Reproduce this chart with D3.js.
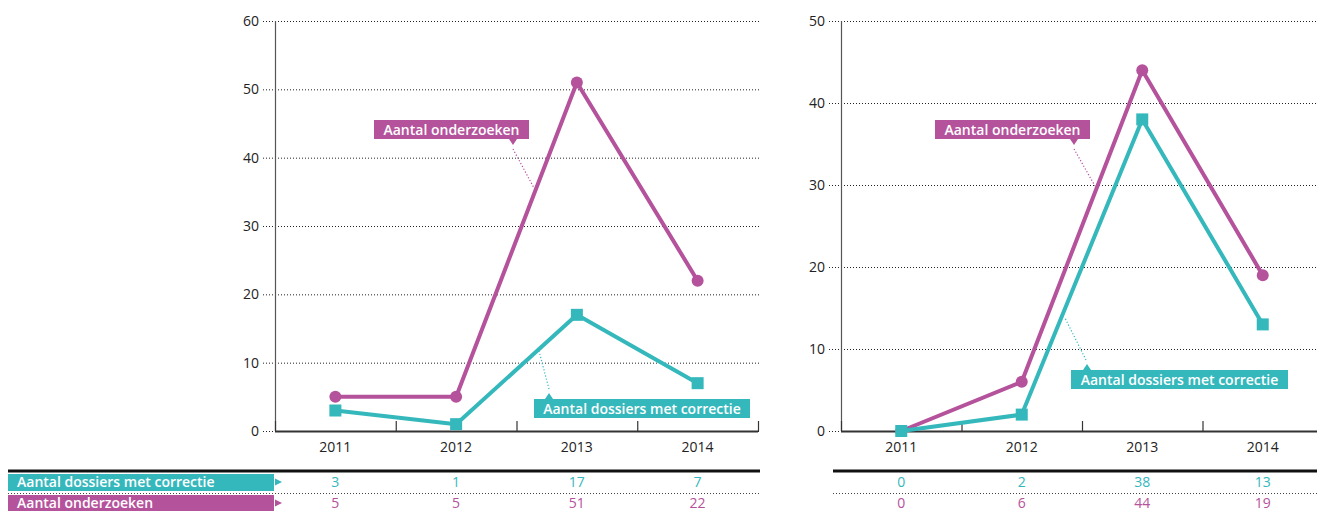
<!DOCTYPE html>
<html>
<head>
<meta charset="utf-8">
<script src="https://cdn.jsdelivr.net/npm/d3@7"></script>
<style>
  html, body { margin: 0; padding: 0; background: #fff; }
  svg { display: block; font-family: "Open Sans", "Noto Sans", sans-serif; }
</style>
</head>
<body>
<svg id="chart" width="1317" height="511"></svg>
<script>
// Years and yearly counts per panel
const years = ["2011", "2012", "2013", "2014"];
const leftCorrecties = [3, 1, 17, 7];
const leftOnderzoeken = [5, 5, 51, 22];
const rightCorrecties = [0, 2, 38, 13];
const rightOnderzoeken = [0, 6, 44, 19];
const leftTicks = [0, 10, 20, 30, 40, 50, 60];
const rightTicks = [0, 10, 20, 30, 40, 50];
const labelCorrecties = "Aantal dossiers met correctie";
const labelOnderzoeken = "Aantal onderzoeken";

const TEAL = "#35b8bc";
const PURPLE = "#b5529c";
const FS = 14;

const svg = d3.select("#chart");

// Row labels of the value table on the far left
function rowLabel(y, text, color) {
  svg.append("rect").attr("x", 8).attr("y", y - 8).attr("width", 266).attr("height", 17).attr("fill", color);
  svg.append("path")
    .attr("d", `M275,${y - 3.5} L282,${y} L275,${y + 3.5} Z`)
    .attr("fill", color);
  svg.append("text").attr("x", 17).attr("y", y).attr("dy", "0.36em")
    .attr("fill", "#fff").attr("font-size", FS).attr("font-weight", 600)
    .text(text);
}

// Callout box with a small pointer and dotted leader to the line
function callout(g, box, pointer, leader, text, color, pointerUp) {
  g.append("rect").attr("x", box[0]).attr("y", box[1]).attr("width", box[2]).attr("height", box[3]).attr("fill", color);
  const px = pointer[0], py = pointer[1];
  const tip = pointerUp ? py - 6 : py + 6;
  g.append("path").attr("d", `M${px - 4},${py} L${px},${tip} L${px + 4},${py} Z`).attr("fill", color);
  g.append("line")
    .attr("x1", leader[0]).attr("y1", leader[1]).attr("x2", leader[2]).attr("y2", leader[3])
    .attr("stroke", color).attr("stroke-width", 1.2).attr("stroke-dasharray", "1.2,2");
  g.append("text").attr("x", box[0] + box[2] / 2).attr("y", box[1] + box[3] / 2).attr("dy", "0.36em")
    .attr("text-anchor", "middle").attr("fill", "#fff")
    .attr("font-size", FS).attr("font-weight", 600).text(text);
}

function panel(o) {
  const g = svg.append("g");
  const x = d3.scaleBand().domain(years).range([o.x0, o.x1]);
  const y = d3.scaleLinear().domain([0, o.max]).range([431, 21]);
  const cx = d => x(d) + x.bandwidth() / 2;

  // dotted gridlines and y tick labels
  g.selectAll(".grid").data(o.ticks).join("line")
    .attr("x1", o.x0 - 12).attr("x2", o.gridEnd)
    .attr("y1", d => y(d) + 0.5).attr("y2", d => y(d) + 0.5)
    .attr("stroke", "#222").attr("stroke-width", 1).attr("stroke-dasharray", "1,2");
  g.selectAll(".ylab").data(o.ticks).join("text")
    .attr("x", o.x0 - 16).attr("y", d => y(d)).attr("dy", "0.36em")
    .attr("text-anchor", "end").attr("font-size", FS).attr("fill", "#222")
    .text(d => d);

  // y axis line
  g.append("line").attr("x1", o.x0 + 0.5).attr("x2", o.x0 + 0.5).attr("y1", y(o.max)).attr("y2", y(0))
    .attr("stroke", "#555").attr("stroke-width", 1.2);

  // x axis with upward ticks at the category boundaries
  const xAxis = d3.axisBottom(x).tickSize(0).tickPadding(11);
  const ax = g.append("g").attr("transform", `translate(0,${y(0)})`).call(xAxis);
  ax.select(".domain").remove();
  ax.selectAll("text").attr("font-size", FS).attr("fill", "#222")
    .attr("font-family", "\"Open Sans\", \"Noto Sans\", sans-serif");
  g.append("line").attr("x1", o.x0).attr("x2", o.x1).attr("y1", y(0) + 0.5).attr("y2", y(0) + 0.5)
    .attr("stroke", "#333").attr("stroke-width", 2);
  const bounds = years.map(d => x(d)).concat([o.x1]);
  g.selectAll(".xt").data(bounds).join("line")
    .attr("x1", d => d + 0.5).attr("x2", d => d + 0.5)
    .attr("y1", y(0) - 10).attr("y2", y(0))
    .attr("stroke", "#333").attr("stroke-width", 1.2);

  // callouts (drawn under the lines)
  callout(g, o.purpleBox, o.purplePointer, o.purpleLeader, labelOnderzoeken, PURPLE, false);
  callout(g, o.tealBox, o.tealPointer, o.tealLeader, labelCorrecties, TEAL, true);

  const line = d3.line().x((d, i) => cx(years[i])).y(d => y(d));

  // Onderzoeken: line with circles
  g.append("path").datum(o.onderzoeken).attr("d", line)
    .attr("fill", "none").attr("stroke", PURPLE).attr("stroke-width", 4).attr("stroke-linejoin", "round");
  g.selectAll(".dot").data(o.onderzoeken).join("circle")
    .attr("cx", (d, i) => cx(years[i])).attr("cy", d => y(d)).attr("r", 6).attr("fill", PURPLE);

  // Correcties: line with squares
  g.append("path").datum(o.correcties).attr("d", line)
    .attr("fill", "none").attr("stroke", TEAL).attr("stroke-width", 4).attr("stroke-linejoin", "round");
  g.selectAll(".sq").data(o.correcties).join("rect")
    .attr("x", (d, i) => cx(years[i]) - 6).attr("y", d => y(d) - 6)
    .attr("width", 12).attr("height", 12).attr("fill", TEAL);

  // value table under the chart
  g.append("line").attr("x1", o.tableStart).attr("x2", o.tableEnd).attr("y1", 471).attr("y2", 471)
    .attr("stroke", "#111").attr("stroke-width", 3);
  g.append("line").attr("x1", o.tableStart).attr("x2", o.tableEnd).attr("y1", 493.5).attr("y2", 493.5)
    .attr("stroke", "#444").attr("stroke-width", 1).attr("stroke-dasharray", "1,2");
  g.selectAll(".vc").data(o.correcties).join("text")
    .attr("x", (d, i) => cx(years[i])).attr("y", 482).attr("dy", "0.36em")
    .attr("text-anchor", "middle").attr("font-size", FS).attr("fill", TEAL).text(d => d);
  g.selectAll(".vo").data(o.onderzoeken).join("text")
    .attr("x", (d, i) => cx(years[i])).attr("y", 503).attr("dy", "0.36em")
    .attr("text-anchor", "middle").attr("font-size", FS).attr("fill", PURPLE).text(d => d);
}

panel({
  x0: 275, x1: 758, gridEnd: 760, max: 60, ticks: leftTicks,
  correcties: leftCorrecties, onderzoeken: leftOnderzoeken,
  tableStart: 8, tableEnd: 760,
  purpleBox: [374, 120, 155, 19], purplePointer: [513, 139], purpleLeader: [513, 149, 534, 188],
  tealBox: [534, 399, 216, 19], tealPointer: [549, 399], tealLeader: [549, 389, 539, 351]
});

panel({
  x0: 841, x1: 1323, gridEnd: 1317, max: 50, ticks: rightTicks,
  correcties: rightCorrecties, onderzoeken: rightOnderzoeken,
  tableStart: 833, tableEnd: 1317,
  purpleBox: [935, 120, 155, 19], purplePointer: [1074, 139], purpleLeader: [1074, 149, 1095, 186],
  tealBox: [1071, 370, 217, 19], tealPointer: [1087, 370], tealLeader: [1086, 360, 1065, 318]
});

rowLabel(482, labelCorrecties, TEAL);
rowLabel(503, labelOnderzoeken, PURPLE);
</script>
</body>
</html>
